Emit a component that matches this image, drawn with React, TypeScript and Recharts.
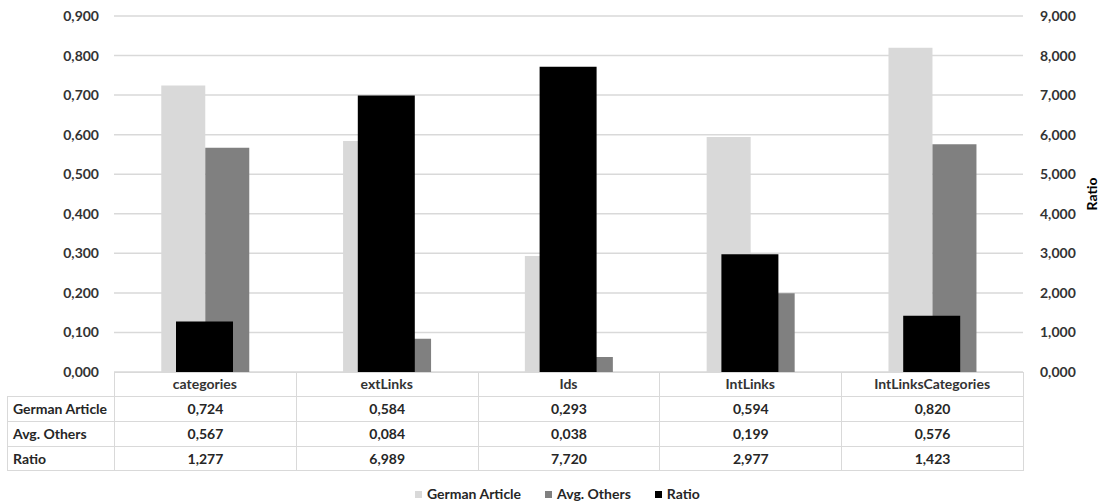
import { BarChart, Bar, XAxis, YAxis, CartesianGrid } from "recharts";

const categories = ["categories", "extLinks", "Ids", "IntLinks", "IntLinksCategories"];
const germanArticle = [0.724, 0.584, 0.293, 0.594, 0.82];
const avgOthers = [0.567, 0.084, 0.038, 0.199, 0.576];
const ratio = [1.277, 6.989, 7.72, 2.977, 1.423];
const leftTicks = [0, 0.1, 0.2, 0.3, 0.4, 0.5, 0.6, 0.7, 0.8, 0.9];
const rightTicks = [0, 1, 2, 3, 4, 5, 6, 7, 8, 9];

const seriesNames = ["German Article", "Avg. Others", "Ratio"];
const seriesColors = ["#d9d9d9", "#808080", "#000000"];

const data = categories.map((name, i) => ({
  name,
  german: germanArticle[i],
  others: avgOthers[i],
  ratio: ratio[i],
}));

const tableRows = [
  { name: seriesNames[0], values: germanArticle },
  { name: seriesNames[1], values: avgOthers },
  { name: seriesNames[2], values: ratio },
];

const fmt = (v: number) => v.toFixed(3).replace(".", ",");

const FONT = "Lato, 'Open Sans', sans-serif";
const TEXT = "#262626";
const GRID = "#d9d9d9";
const FS = 14;

const tickStyle = { fill: "#333333", fontSize: FS, fontWeight: 700, fontFamily: FONT };

const cell = {
  border: `1px solid ${GRID}`,
  padding: 0,
  fontSize: FS,
  fontWeight: 700,
  color: TEXT,
  textAlign: "center" as const,
  lineHeight: 1,
  fontFamily: FONT,
};

export default function App() {
  return (
    <div
      style={{
        position: "absolute",
        left: 0,
        top: 0,
        width: 1102,
        height: 503,
        background: "#fff",
        fontFamily: FONT,
      }}
    >
      <BarChart
        width={1102}
        height={503}
        data={data}
        margin={{ top: 16, right: 0, bottom: 107, left: 0 }}
        barCategoryGap="26%"
        barGap={0}
      >
        <CartesianGrid vertical={false} stroke={GRID} strokeWidth={1.5} xAxisId="main" yAxisId="left" />
        <XAxis
          xAxisId="main"
          dataKey="name"
          height={24}
          interval={0}
          tickLine={false}
          axisLine={false}
          tickSize={0}
          tickMargin={7}
          tick={tickStyle}
        />
        <XAxis xAxisId="r" dataKey="name" hide />
        <YAxis
          yAxisId="left"
          width={114}
          domain={[0, 0.9]}
          ticks={leftTicks}
          tickFormatter={fmt}
          tickLine={false}
          axisLine={false}
          tickSize={0}
          tickMargin={15}
          tick={tickStyle}
        />
        <YAxis
          yAxisId="right"
          orientation="right"
          width={79}
          domain={[0, 9]}
          ticks={rightTicks}
          tickFormatter={fmt}
          tickLine={false}
          axisLine={false}
          tickSize={0}
          tickMargin={17}
          tick={{ ...tickStyle, textAnchor: "start" }}
          label={{
            value: "Ratio",
            angle: -90,
            position: "center",
            dx: 30,
            style: { fill: "#000", fontSize: FS, fontWeight: 700, fontFamily: FONT },
          }}
        />
        <Bar xAxisId="main" yAxisId="left" dataKey="german" name={seriesNames[0]} fill={seriesColors[0]} isAnimationActive={false} />
        <Bar xAxisId="main" yAxisId="left" dataKey="others" name={seriesNames[1]} fill={seriesColors[1]} isAnimationActive={false} />
        <Bar xAxisId="r" yAxisId="right" dataKey="ratio" name={seriesNames[2]} fill={seriesColors[2]} barSize={57} isAnimationActive={false} />
      </BarChart>

      {/* data table under the plot */}
      <table
        style={{
          position: "absolute",
          left: 7,
          top: 372,
          width: 1016,
          borderCollapse: "collapse",
          tableLayout: "fixed",
        }}
      >
        <colgroup>
          <col style={{ width: 107 }} />
          {categories.map((c) => (
            <col key={c} style={{ width: 181.8 }} />
          ))}
        </colgroup>
        <tbody>
          <tr style={{ height: 24 }}>
            <td style={{ padding: 0, border: "none" }} />
            {categories.map((c) => (
              <td key={c} style={cell} />
            ))}
          </tr>
          {tableRows.map((r, ri) => (
            <tr key={r.name} style={{ height: ri === 2 ? 24 : 25 }}>
              <td style={{ ...cell, textAlign: "left", paddingLeft: 5 }}>{r.name}</td>
              {r.values.map((v, i) => (
                <td key={i} style={cell}>
                  {fmt(v)}
                </td>
              ))}
            </tr>
          ))}
        </tbody>
      </table>

      {/* legend */}
      <div
        style={{
          position: "absolute",
          left: 415,
          top: 486,
          display: "flex",
          alignItems: "center",
          fontSize: FS,
          fontWeight: 700,
          color: TEXT,
          lineHeight: "16px",
        }}
      >
        {seriesNames.map((n, i) => (
          <div key={n} style={{ display: "flex", alignItems: "center", marginRight: 24 }}>
            <span style={{ width: 7, height: 7, background: seriesColors[i], marginRight: 5, display: "inline-block" }} />
            <span>{n}</span>
          </div>
        ))}
      </div>
    </div>
  );
}
